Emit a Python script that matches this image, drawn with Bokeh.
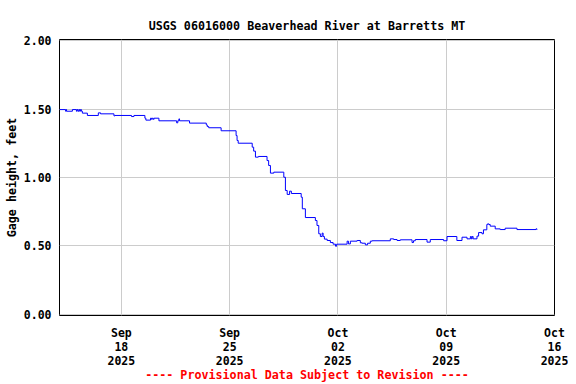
import pandas as pd
from bokeh.plotting import figure
from bokeh.models import Range1d, FixedTicker, NumeralTickFormatter
from bokeh.embed import file_html
from bokeh.resources import INLINE

title_text = "USGS 06016000 Beaverhead River at Barretts MT"
y_label = "Gage height, feet"
footnote = "---- Provisional Data Subject to Revision ----"

times = [
    "2025-09-14 00:00", "2025-09-14 09:30", "2025-09-14 10:15", "2025-09-14 11:00",
    "2025-09-14 20:00", "2025-09-15 02:15", "2025-09-15 03:15", "2025-09-15 04:30",
    "2025-09-15 06:00", "2025-09-15 07:15", "2025-09-15 08:30", "2025-09-15 10:00",
    "2025-09-15 11:30", "2025-09-15 19:15", "2025-09-16 12:15", "2025-09-16 15:45",
    "2025-09-17 12:30", "2025-09-17 14:00", "2025-09-18 15:45", "2025-09-18 19:30",
    "2025-09-19 12:30", "2025-09-19 14:00", "2025-09-19 21:15", "2025-09-19 22:45",
    "2025-09-20 00:00", "2025-09-20 01:30", "2025-09-20 02:45", "2025-09-20 10:15",
    "2025-09-21 13:45", "2025-09-21 15:30", "2025-09-21 17:15", "2025-09-21 18:15",
    "2025-09-22 09:45", "2025-09-23 11:45", "2025-09-23 13:15", "2025-09-23 15:30",
    "2025-09-24 10:45", "2025-09-25 10:00", "2025-09-25 11:30", "2025-09-25 13:15",
    "2025-09-26 11:00", "2025-09-26 13:15", "2025-09-26 16:00", "2025-09-26 20:30",
    "2025-09-27 10:00", "2025-09-27 12:30", "2025-09-27 15:15", "2025-09-27 20:30",
    "2025-09-28 12:00", "2025-09-28 14:30", "2025-09-28 17:15", "2025-09-28 21:00",
    "2025-09-28 23:45", "2025-09-29 15:00", "2025-09-29 16:45", "2025-09-29 21:30",
    "2025-09-30 13:00", "2025-09-30 15:30", "2025-09-30 18:15", "2025-09-30 20:45",
    "2025-09-30 23:30", "2025-10-01 01:00", "2025-10-01 03:00", "2025-10-01 07:15",
    "2025-10-01 12:15", "2025-10-01 16:30", "2025-10-01 20:15", "2025-10-01 22:00",
    "2025-10-02 14:15", "2025-10-02 16:15", "2025-10-02 19:15", "2025-10-03 05:45",
    "2025-10-03 10:45", "2025-10-03 13:30", "2025-10-03 18:30", "2025-10-03 22:00",
    "2025-10-04 02:15", "2025-10-04 05:00", "2025-10-05 09:15", "2025-10-05 14:30",
    "2025-10-05 19:45", "2025-10-06 00:45", "2025-10-06 19:00", "2025-10-06 21:15",
    "2025-10-07 00:00", "2025-10-07 18:15", "2025-10-07 23:15", "2025-10-08 20:00",
    "2025-10-09 01:15", "2025-10-09 16:30", "2025-10-10 00:30", "2025-10-10 08:15",
    "2025-10-10 13:30", "2025-10-10 15:00", "2025-10-10 16:15", "2025-10-10 17:45",
    "2025-10-10 23:45", "2025-10-11 02:15", "2025-10-11 07:30", "2025-10-11 09:45",
    "2025-10-11 15:00", "2025-10-11 16:15", "2025-10-11 18:00", "2025-10-11 20:15",
    "2025-10-12 04:00", "2025-10-12 11:45", "2025-10-12 19:30", "2025-10-13 13:45",
    "2025-10-14 19:15", "2025-10-14 20:45", "2025-10-14 21:00",
]
gage_ft = [
    1.497, 1.485, 1.497, 1.485,
    1.497, 1.485, 1.497, 1.485,
    1.497, 1.485, 1.497, 1.485,
    1.471, 1.454, 1.473, 1.466,
    1.451, 1.454, 1.446, 1.454,
    1.434, 1.420, 1.434, 1.426,
    1.434, 1.426, 1.434, 1.415,
    1.400, 1.415, 1.429, 1.415,
    1.398, 1.385, 1.373, 1.364,
    1.342, 1.307, 1.271, 1.251,
    1.222, 1.193, 1.149, 1.154,
    1.124, 1.088, 1.032, 1.039,
    1.002, 0.905, 0.876, 0.900,
    0.883, 0.856, 0.771, 0.707,
    0.685, 0.649, 0.588, 0.568,
    0.593, 0.568, 0.549, 0.539,
    0.524, 0.512, 0.497, 0.512,
    0.534, 0.514, 0.534, 0.539,
    0.522, 0.519, 0.507, 0.519,
    0.534, 0.537, 0.551, 0.546,
    0.539, 0.544, 0.524, 0.537,
    0.546, 0.527, 0.546, 0.537,
    0.568, 0.539, 0.563, 0.551,
    0.568, 0.551, 0.568, 0.551,
    0.571, 0.597, 0.588, 0.617,
    0.656, 0.661, 0.656, 0.644,
    0.624, 0.619, 0.629, 0.619,
    0.624, 0.619, 0.619,
]

x_start = "2025-09-14 00:00"
x_end = "2025-10-16 00:00"
x_tick_dates = ["2025-09-18", "2025-09-25", "2025-10-02", "2025-10-09", "2025-10-16"]
x_tick_labels = ["Sep\n18\n2025", "Sep\n25\n2025", "Oct\n02\n2025", "Oct\n09\n2025", "Oct\n16\n2025"]
y_ticks = [0.0, 0.5, 1.0, 1.5, 2.0]


def ms(s):
    return pd.Timestamp(s).value / 1e6


FONT = "DejaVu Sans Mono"

t = pd.to_datetime(times)

p = figure(
    frame_width=495, frame_height=276,
    x_axis_type="datetime",
    output_backend="svg", toolbar_location=None,
    x_range=Range1d(ms(x_start), ms(x_end)),
    y_range=Range1d(-0.01, 2.01),
    min_border_left=59, min_border_right=14, min_border_top=39, min_border_bottom=69,
    title=title_text,
)
p.background_fill_color = "white"
p.border_fill_color = "white"
p.outline_line_color = "black"
p.outline_line_width = 1

p.step(t, gage_ft, mode="after", line_color="#0000ff", line_width=1)

p.title.align = "center"
p.title.text_font = FONT
p.title.text_font_style = "bold"
p.title.text_font_size = "11.7px"
p.title.text_color = "black"
p.title.standoff = 14

tick_ms = [ms(d) for d in x_tick_dates]
p.xaxis.ticker = FixedTicker(ticks=tick_ms)
p.xaxis.major_label_overrides = {v: lab for v, lab in zip(tick_ms, x_tick_labels)}
p.xgrid.ticker = FixedTicker(ticks=tick_ms)
p.yaxis.ticker = FixedTicker(ticks=y_ticks)
p.ygrid.ticker = FixedTicker(ticks=y_ticks)
p.yaxis.formatter = NumeralTickFormatter(format="0.00")

for ax in (p.xaxis, p.yaxis):
    ax.axis_line_color = None
    ax.major_tick_line_color = None
    ax.minor_tick_line_color = None
    ax.major_tick_out = 0
    ax.major_tick_in = 0
    ax.major_label_text_font = FONT
    ax.major_label_text_font_style = "bold"
    ax.major_label_text_font_size = "11.5px"
    ax.major_label_text_color = "black"
    ax.axis_label_text_font = FONT
    ax.axis_label_text_font_style = "bold"
    ax.axis_label_text_font_size = "11.7px"

p.xaxis.major_label_standoff = 10
p.xaxis.major_label_text_line_height = 1.03
p.xaxis.axis_label = footnote
p.xaxis.axis_label_text_color = "#ff0000"
p.xaxis.axis_label_standoff = -3
p.xaxis.axis_label_text_line_height = 1.0

p.yaxis.major_label_standoff = 8
p.yaxis.axis_label = y_label
p.yaxis.axis_label_text_color = "black"
p.yaxis.axis_label_standoff = 2

for g in (p.xgrid, p.ygrid):
    g.grid_line_color = "#cccccc"
    g.grid_line_width = 1

open("out.html", "w").write(file_html(p, INLINE))
